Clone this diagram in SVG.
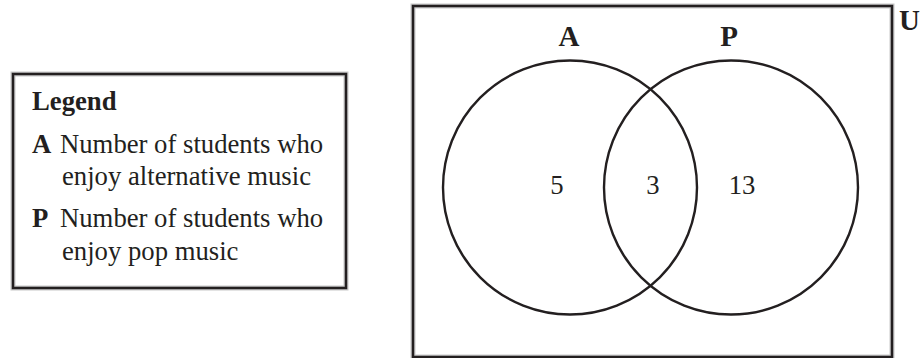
<svg xmlns="http://www.w3.org/2000/svg" width="924" height="358" viewBox="0 0 924 358">
<style>
text{font-family:'Liberation Serif','Times New Roman',serif;font-size:26.7px;fill:#231f20}
.b{font-weight:bold}
.lbl{font-size:29px}
.box{fill:none;stroke:#231f20;stroke-width:2.5}
.halo{fill:none;stroke:#c8c8c8;stroke-width:5}
.c{fill:none;stroke:#231f20;stroke-width:2.4}
</style>
<rect width="924" height="358" fill="#fff"/>
<g id="legend">
<rect class="halo" x="13" y="74" width="333" height="214"/>
<rect class="box" x="13" y="74" width="333" height="214"/>
<text class="b" x="32" y="110">Legend</text>
<text class="b" x="32" y="153">A</text>
<text x="60" y="153">Number of students who</text>
<text x="62" y="185">enjoy alternative music</text>
<text class="b" x="32" y="227">P</text>
<text x="60" y="227">Number of students who</text>
<text x="62" y="260">enjoy pop music</text>
</g>
<g id="universe">
<rect class="halo" x="413" y="6" width="479" height="351"/>
<rect class="box" x="413" y="6" width="479" height="351"/>
<text class="b lbl" x="899" y="30">U</text>
</g>
<g id="setA">
<circle class="c" cx="570" cy="187.5" r="127"/>
<text class="b lbl" x="569" y="46" text-anchor="middle">A</text>
</g>
<g id="setP">
<circle class="c" cx="731" cy="187.5" r="127"/>
<text class="b lbl" x="729" y="46" text-anchor="middle">P</text>
</g>
<g id="regions">
<text x="557" y="194" text-anchor="middle">5</text>
<text x="653" y="194" text-anchor="middle">3</text>
<text x="742" y="194" text-anchor="middle">13</text>
</g>
<g id="connectors"></g>
</svg>
